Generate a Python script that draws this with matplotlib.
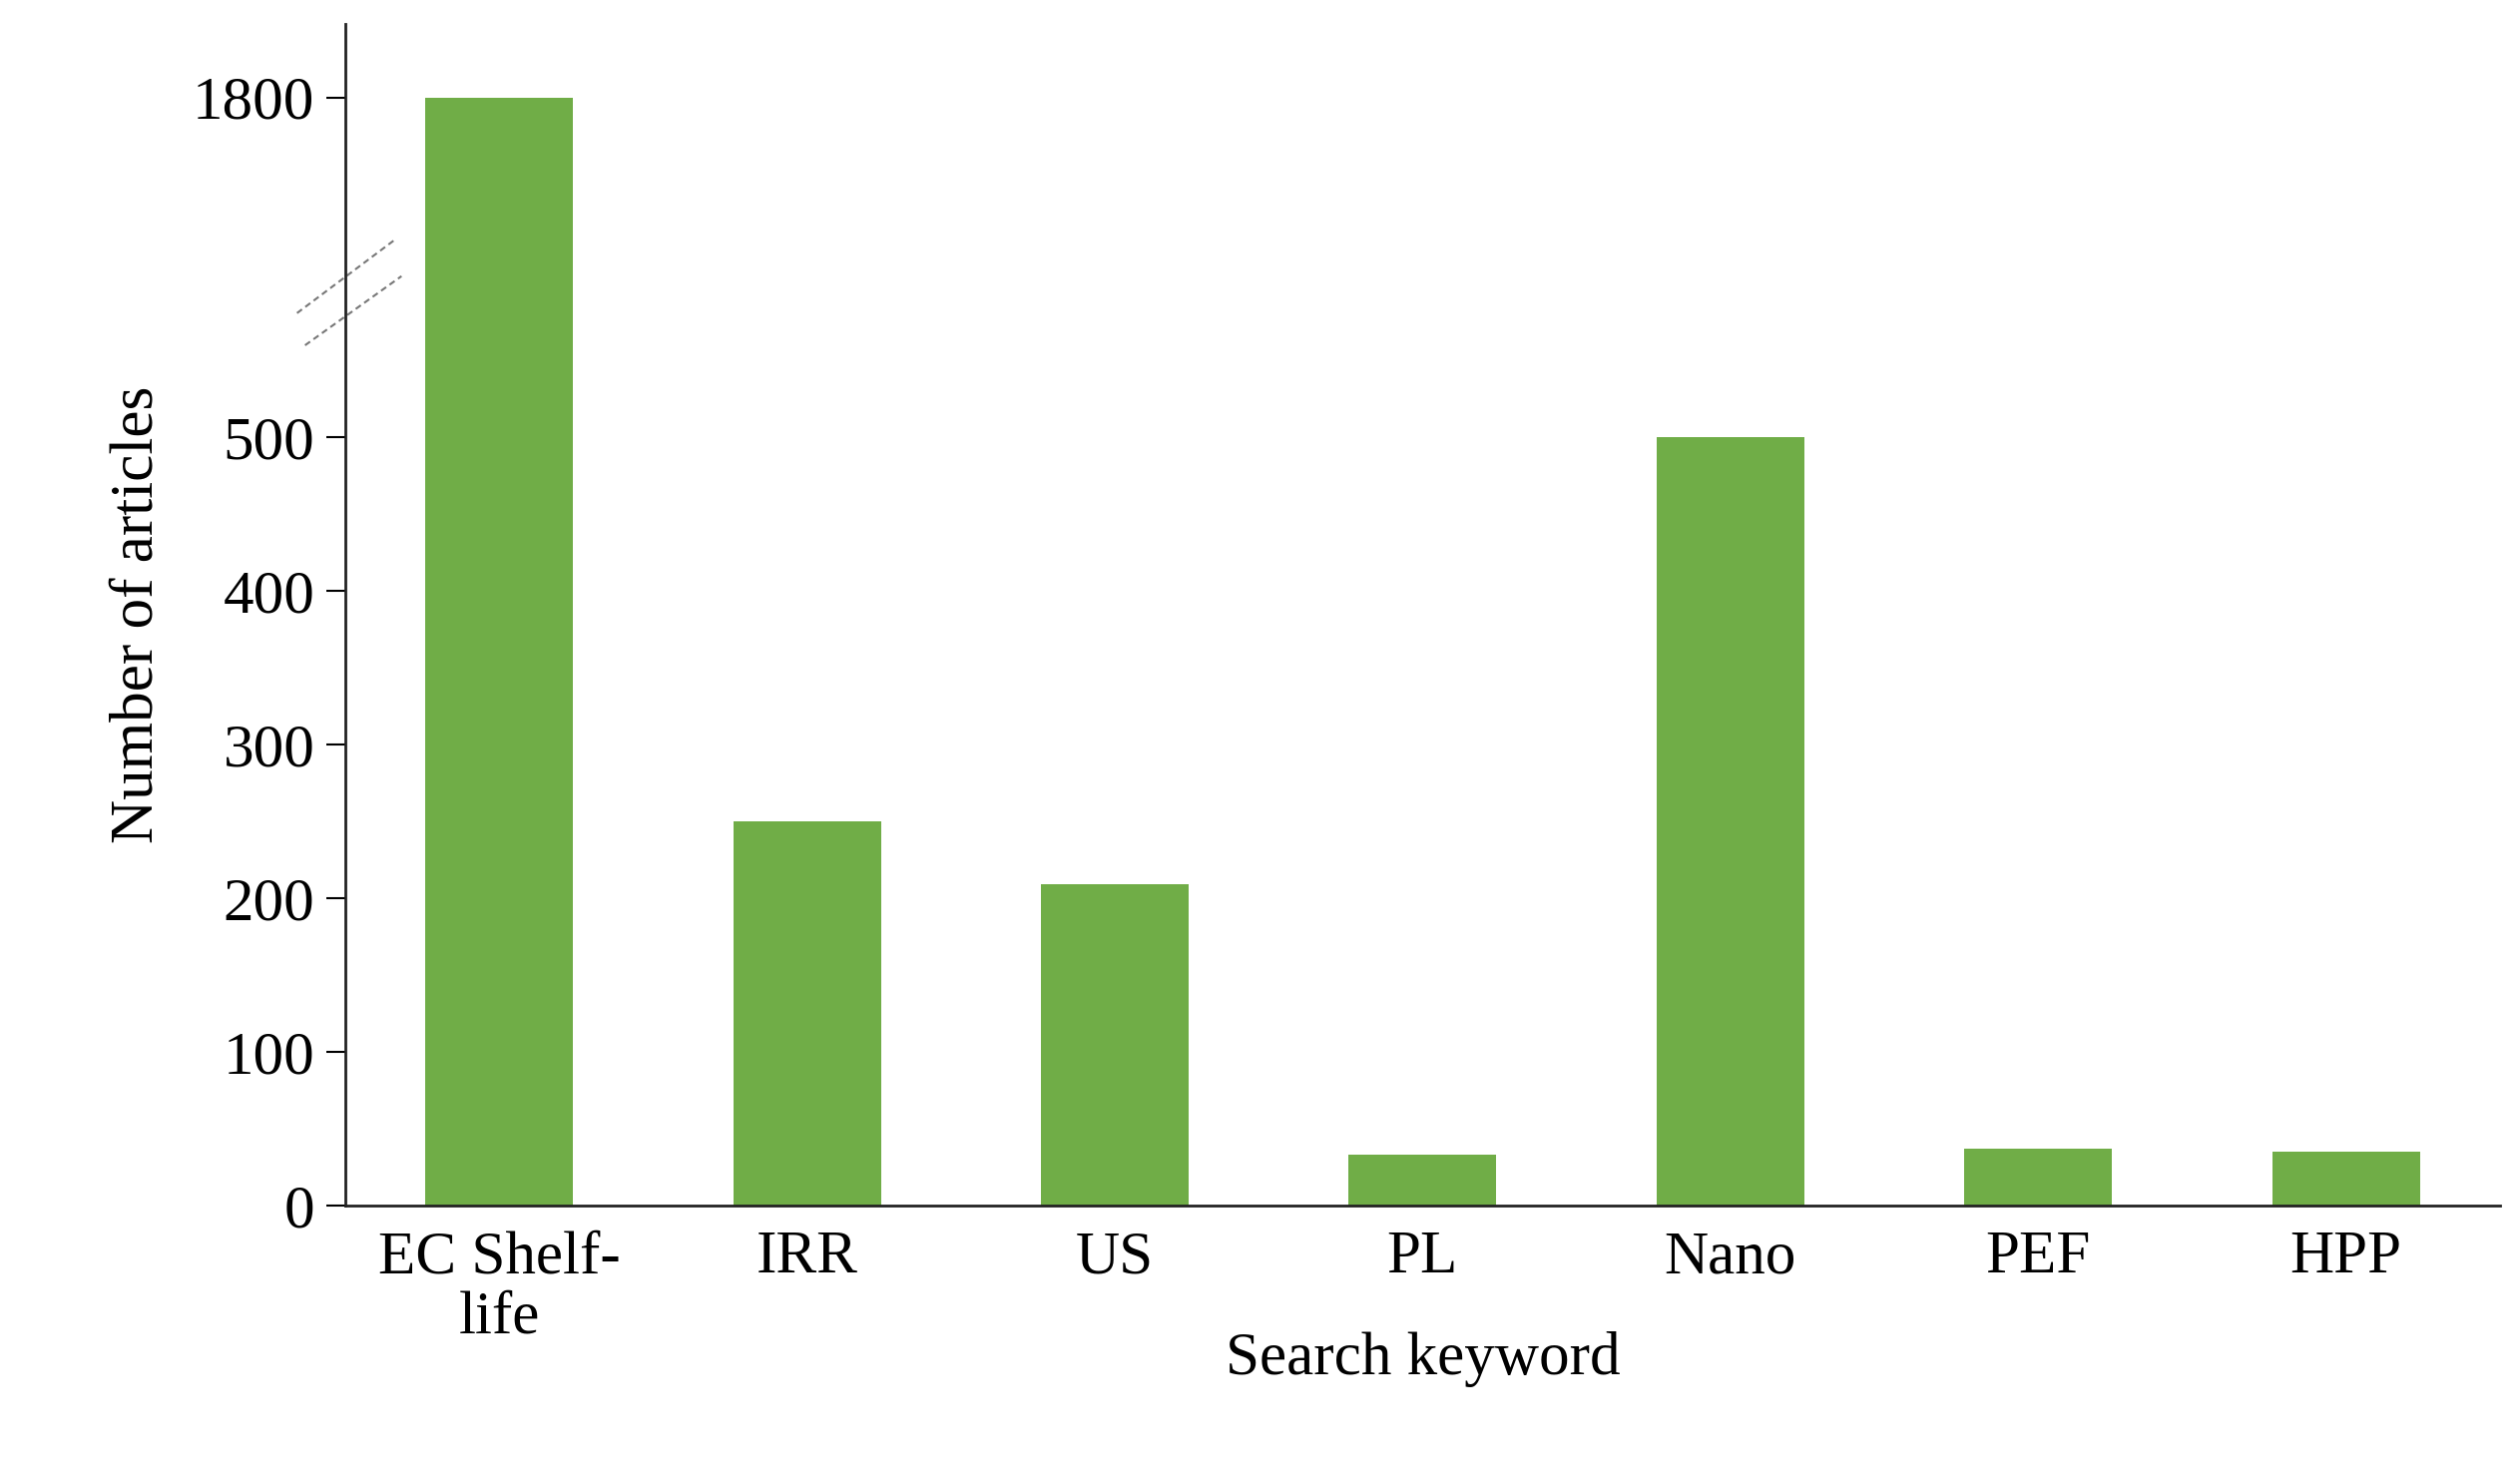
import numpy as np
import matplotlib
matplotlib.use("Agg")
import matplotlib.pyplot as plt

plt.rcParams.update({"font.family": "Liberation Serif", "font.size": 44})

keywords = ["EC Shelf-\nlife", "IRR", "US", "PL", "Nano", "PEF", "HPP"]
articles = [1800, 250, 209, 33, 500, 37, 35]

BREAK = 500
K = 0.17  # compression above the break


def fwd(v):
    v = np.asarray(v, dtype=float)
    return np.where(v <= BREAK, v, BREAK + (v - BREAK) * K)


def inv(t):
    t = np.asarray(t, dtype=float)
    return np.where(t <= BREAK, t, BREAK + (t - BREAK) / K)


fig = plt.figure(figsize=(25.25, 14.84), dpi=100)
ax = fig.add_axes([0.137, 0.186, 0.855, 0.798])
ax.set_yscale("function", functions=(fwd, inv))
x = np.arange(len(keywords))
ax.bar(x, articles, width=0.48, color="#70AD47")
ax.set_xlim(-0.5, 6.5)
ax.set_ylim(0, inv(769))
ax.set_yticks([0, 100, 200, 300, 400, 500, 1800])
ax.set_yticklabels(["0", "100", "200", "300", "400", "500", "1800"])
ax.set_xticks(x)
ax.set_xticklabels(keywords, linespacing=1.1)
ax.tick_params(axis="x", length=0, pad=18)
ax.tick_params(axis="y", length=14, width=1.5, pad=8)
for s in ["top", "right"]:
    ax.spines[s].set_visible(False)
for s in ["left", "bottom"]:
    ax.spines[s].set_linewidth(2)
    ax.spines[s].set_color("#222222")
ax.set_xlabel("Search keyword", labelpad=-10)
ax.set_ylabel("Number of articles", labelpad=20)

# axis break marks
for (x0, y0, x1, y1) in [(185, 195, 245, 150), (190, 215, 250, 172)]:
    ax.plot([(x0 - 215) / 1340, (x1 - 215) / 1340],
            [(750 - y0) / 735, (750 - y1) / 735],
            transform=ax.transAxes, clip_on=False,
            color="#777777", lw=1.5, ls=(0, (3, 2)))

fig.savefig("out.png", dpi=100)
